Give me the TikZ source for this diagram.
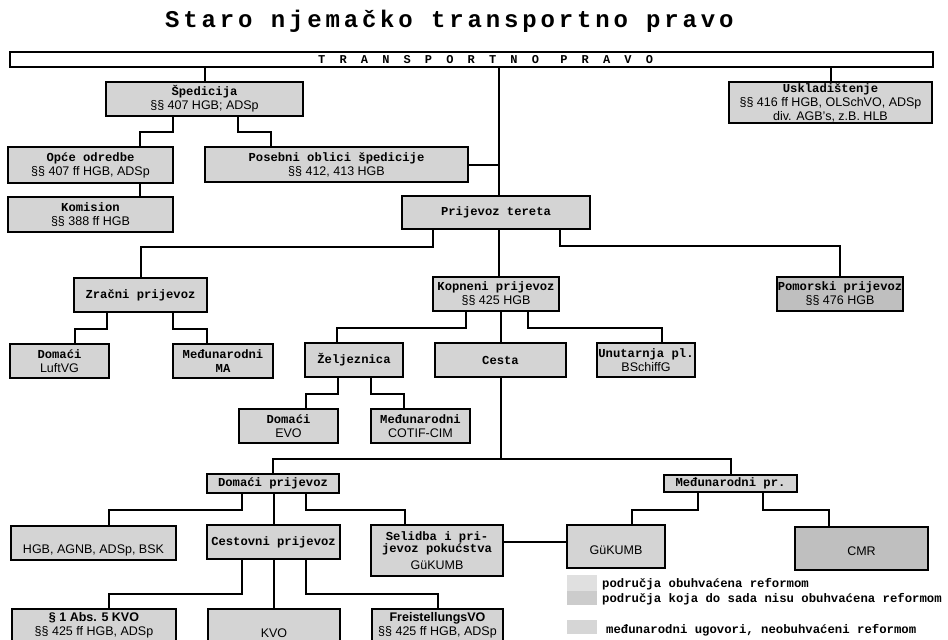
\documentclass[tikz,border=0pt]{standalone}
\usepackage{fontspec}
\setmainfont{Liberation Sans}
\newfontfamily\cb{Liberation Mono}
\newfontfamily\cbtitle{Liberation Mono}[LetterSpace=16]
\newfontfamily\cbwide{Liberation Mono}[LetterSpace=118]
\newcommand{\hd}[1]{{\cb\bfseries\fontsize{12.2}{14}\selectfont #1}}
\newcommand{\dropby}[2]{\raisebox{-#1}[\height][\depth]{#2}}
\definecolor{boxgray}{gray}{0.83}
\definecolor{seagray}{gray}{0.75}
\definecolor{leggrayA}{gray}{0.88}
\definecolor{leggrayB}{gray}{0.80}
\definecolor{leggrayC}{gray}{0.84}

\tikzset{
  box/.style={draw, line width=2pt, fill=boxgray, inner sep=0.5pt, align=center,
    font=\fontsize{12.5}{14}\selectfont},
  link/.style={line width=2pt},
  legtext/.style={anchor=base west, inner sep=0, font=\fontsize{12.3}{14}\selectfont\cb\bfseries},
}

\begin{document}
\begin{tikzpicture}[x=1pt, y=-1pt]
\path[use as bounding box, clip] (0,0) rectangle (948,640);
\fill[white] (0,0) rectangle (948,640);

% title and top bar
\node[anchor=base west, inner sep=0, font=\fontsize{24}{24}\selectfont\cbtitle\bfseries] (title) at (165,27) {Staro njemačko transportno pravo};
\node[draw, line width=2pt, fill=white, minimum width=923, minimum height=15, inner sep=0] (tp) at (471.5,59.5) {};
\node[anchor=base west, inner sep=0, font=\fontsize{12}{12}\selectfont\cbwide\bfseries] (tptext) at (318,63.5) {TRANSPORTNO PRAVO};

% spedicija and skladistenje
\node[box, minimum width=197, minimum height=34] (sped) at (204.5,99) {\hd{Špedicija}\\ §§ 407 HGB; ADSp};
\node[box, minimum width=203, minimum height=41] (uskl) at (830.5,102.5) {\hd{Uskladištenje}\\ §§ 416 ff HGB, OLSchVO, ADSp\\ div. AGB's, z.B. HLB};
\node[box, minimum width=165, minimum height=36] (opce) at (90.5,165) {\hd{Opće odredbe}\\ §§ 407 ff HGB, ADSp};
\node[box, minimum width=165, minimum height=35] (komis) at (90.5,214.5) {\hd{Komision}\\ §§ 388 ff HGB};
\node[box, minimum width=263, minimum height=35] (poseb) at (336.5,164.5) {\hd{Posebni oblici špedicije}\\ §§ 412, 413 HGB};

% prijevoz tereta
\node[box, minimum width=188, minimum height=33] (prij) at (496,212.5) {\hd{Prijevoz tereta}};
\node[box, minimum width=133, minimum height=34] (zrac) at (140.5,295) {\hd{Zračni prijevoz}};
\node[box, minimum width=126, minimum height=34] (kopn) at (496,294) {\hd{Kopneni prijevoz}\\ §§ 425 HGB};
\node[box, fill=seagray, minimum width=126, minimum height=34] (pomo) at (840,294) {\hd{Pomorski prijevoz}\\ §§ 476 HGB};

\node[box, minimum width=99, minimum height=34] (domzr) at (59.5,361) {\hd{Domaći}\\ LuftVG};
\node[box, minimum width=100, minimum height=34] (medzr) at (223,361) {\hd{Međunarodni}\\ \hd{MA}};
\node[box, minimum width=98, minimum height=34] (zelj) at (354,360) {\hd{Željeznica}};
\node[box, minimum width=131, minimum height=34] (cesta) at (500.5,360) {\hd{Cesta}};
\node[box, minimum width=98, minimum height=34] (unut) at (646,360) {\hd{Unutarnja pl.}\\ BSchiffG};
\node[box, minimum width=99, minimum height=34] (domzel) at (288.5,426) {\hd{Domaći}\\ EVO};
\node[box, minimum width=99, minimum height=34] (medzel) at (420.5,426) {\hd{Međunarodni}\\ COTIF-CIM};

% cestovni prijevoz
\node[box, minimum width=132, minimum height=19] (dompr) at (273,483.5) {\hd{Domaći prijevoz}};
\node[box, minimum width=133, minimum height=17] (medpr) at (730.5,483.5) {\hd{Međunarodni pr.}};
\node[box, minimum width=165, minimum height=34] (hgb) at (93.5,543) {\dropby{7pt}{HGB, AGNB, ADSp, BSK}};
\node[box, minimum width=133, minimum height=34] (cestpr) at (273.5,542) {\hd{Cestovni prijevoz}};
\node[box, minimum width=132, minimum height=51] (selid) at (437,550.5) {\hd{Selidba i pri-}\\[-2.5pt] \hd{jevoz pokućstva}\\[3pt] GüKUMB};
\node[box, minimum width=98, minimum height=43] (gukumb) at (616,546.5) {\dropby{4pt}{GüKUMB}};
\node[box, fill=seagray, minimum width=133, minimum height=43] (cmr) at (861.5,548.5) {\dropby{3pt}{CMR}};
\node[box, minimum width=164, minimum height=32] (kvo1) at (94,625) {\textbf{§ 1 Abs. 5 KVO}\\ §§ 425 ff HGB, ADSp};
\node[box, minimum width=132, minimum height=32] (kvo) at (274,625) {\dropby{8pt}{KVO}};
\node[box, minimum width=131, minimum height=32] (freist) at (437.5,625) {\textbf{FreistellungsVO}\\ §§ 425 ff HGB, ADSp};

% connectors
\coordinate (trunk) at ([xshift=3]prij.north);
\draw[link] (trunk) -- (trunk |- tp.south);
\draw[link] (sped.north) -- (sped.north |- tp.south);
\draw[link] (uskl.north) -- (uskl.north |- tp.south);
\draw[link] (poseb.east) -- (poseb.east -| trunk);

\draw[link] ([xshift=-31.5]sped.south) -- ++(0,15) -| ([xshift=49.5]opce.north);
\draw[link] ([xshift=33.5]sped.south) -- ++(0,15) -| ([xshift=-65.5]poseb.north);
\draw[link] ([xshift=49.5]opce.south) -- ([xshift=49.5]komis.north);

\draw[link] ([xshift=-63]prij.south) -- ++(0,17) -| (zrac.north);
\draw[link] (trunk |- prij.south) -- (trunk |- kopn.north);
\draw[link] ([xshift=64]prij.south) -- ++(0,16) -| (pomo.north);

\draw[link] ([xshift=-33.5]zrac.south) -- ++(0,16) -| ([xshift=15.5]domzr.north);
\draw[link] ([xshift=32.5]zrac.south) -- ++(0,16) -| ([xshift=-16]medzr.north);

\draw[link] ([xshift=-30]kopn.south) -- ++(0,16) -| ([xshift=-17]zelj.north);
\draw[link] (cesta.north) -- (cesta.north |- kopn.south);
\draw[link] ([xshift=32]kopn.south) -- ++(0,16) -| ([xshift=16]unut.north);

\draw[link] ([xshift=-16]zelj.south) -- ++(0,16) -| ([xshift=17.5]domzel.north);
\draw[link] ([xshift=17]zelj.south) -- ++(0,16) -| ([xshift=-16.5]medzel.north);

\draw[link] (cesta.south) -- ++(0,81) coordinate (split);
\draw[link] (dompr.north) |- (split) -| (medpr.north);

\draw[link] ([xshift=-31]dompr.south) -- ++(0,16) -| ([xshift=15.5]hgb.north);
\draw[link] (cestpr.north) -- (cestpr.north |- dompr.south);
\draw[link] ([xshift=33]dompr.south) -- ++(0,16) -| ([xshift=-32]selid.north);

\coordinate (selr) at ([yshift=8.5]selid.east);
\draw[link] (selr) -- (selr -| gukumb.west);

\draw[link] ([xshift=-32.5]medpr.south) -- ++(0,17) -| ([xshift=16]gukumb.north);
\draw[link] ([xshift=32.5]medpr.south) -- ++(0,17) -| ([xshift=-32.5]cmr.north);

\draw[link] ([xshift=-31.5]cestpr.south) -- ++(0,34) -| ([xshift=15]kvo1.north);
\draw[link] (kvo.north) -- (kvo.north |- cestpr.south);
\draw[link] ([xshift=32.5]cestpr.south) -- ++(0,34) -| (freist.north);

% legend
\fill[leggrayA] (567,575) rectangle (597,591);
\fill[leggrayB] (567,591) rectangle (597,605);
\fill[leggrayC] (567,620) rectangle (597,634);
\node[legtext] (lgA) at (602,587) {područja obuhvaćena reformom};
\node[legtext] (lgB) at (602,602) {područja koja do sada nisu obuhvaćena reformom};
\node[legtext] (lgC) at (606,633) {međunarodni ugovori, neobuhvaćeni reformom};
\end{tikzpicture}
\end{document}
